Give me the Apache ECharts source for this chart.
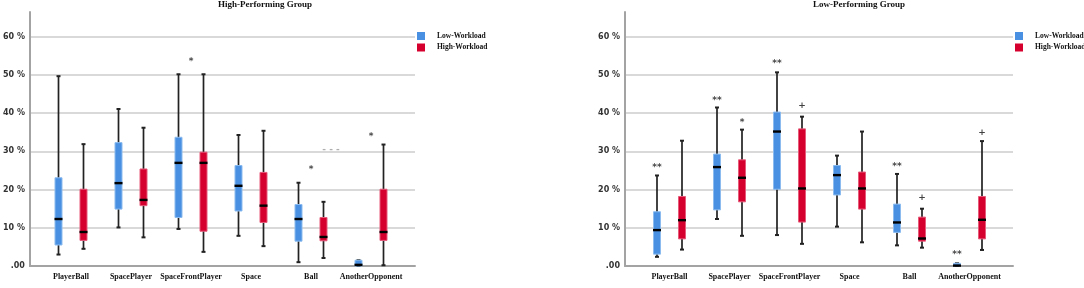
<!DOCTYPE html>
<html>
<head>
<meta charset="utf-8">
<script src="https://cdn.jsdelivr.net/npm/echarts@6/dist/echarts.min.js"></script>
<style>
  html, body { margin: 0; padding: 0; background: #fff; }
  #chart { width: 1084px; height: 288px; }
</style>
</head>
<body>
<div id="chart"></div>
<script>
// categories on the x axis
var categories = ['PlayerBall', 'SpacePlayer', 'SpaceFrontPlayer', 'Space', 'Ball', 'AnotherOpponent'];
var yTicks = [0, 10, 20, 30, 40, 50, 60];

// box values per category: [low whisker, Q1, median, Q3, high whisker] in %
var highPerfLowWl = [
  [3.0, 5.5, 12.3, 23.1, 49.7],
  [10.1, 14.9, 21.7, 32.3, 41.1],
  [9.7, 12.7, 27.0, 33.7, 50.2],
  [7.9, 14.4, 21.0, 26.3, 34.3],
  [1.0, 6.5, 12.3, 16.1, 21.8],
  [0.0, 0.0, 0.3, 1.5, 1.5]
];
var highPerfHighWl = [
  [4.5, 6.7, 8.9, 20.1, 31.9],
  [7.5, 15.8, 17.3, 25.4, 36.2],
  [3.7, 9.1, 27.0, 29.8, 50.2],
  [5.2, 11.4, 15.8, 24.5, 35.4],
  [2.1, 6.6, 7.6, 12.7, 16.8],
  [0.2, 6.7, 8.9, 20.1, 31.8]
];
var lowPerfLowWl = [
  [2.4, 3.1, 9.4, 14.2, 23.7],
  [12.3, 14.7, 25.9, 29.3, 41.5],
  [8.1, 20.1, 35.2, 40.3, 50.7],
  [10.3, 18.6, 23.8, 26.3, 28.9],
  [5.4, 8.8, 11.4, 16.2, 24.1],
  [0.0, 0.0, 0.1, 0.7, 0.7]
];
var lowPerfHighWl = [
  [4.3, 7.1, 12.0, 18.2, 32.8],
  [7.9, 16.8, 23.1, 27.8, 35.7],
  [5.8, 11.5, 20.3, 35.9, 39.1],
  [6.2, 14.9, 20.3, 24.6, 35.2],
  [4.8, 6.5, 7.2, 12.8, 15.0],
  [4.2, 7.1, 12.1, 18.2, 32.7]
];

// significance marks: [category, y position %, text]
var highPerfPairMarks = [
  ['SpaceFrontPlayer', 53.6, '*'],
  ['Ball', 25.1, '*'],
  ['AnotherOpponent', 33.9, '*']
];
var highPerfFaintMarks = [
  ['Ball', 30.4, '- - -']
];
var lowPerfLowWlMarks = [
  ['PlayerBall', 25.7, '**'],
  ['SpacePlayer', 43.4, '**'],
  ['SpaceFrontPlayer', 52.9, '**'],
  ['Ball', 26.0, '**'],
  ['AnotherOpponent', 3.0, '**']
];
var lowPerfHighWlMarks = [
  ['SpacePlayer', 37.6, '*'],
  ['SpaceFrontPlayer', 42.1, '+'],
  ['Ball', 17.8, '+'],
  ['AnotherOpponent', 34.8, '+']
];

var BLUE = '#4a90e2', BLUE_EDGE = '#8bbbef';
var RED = '#d6002f', RED_EDGE = '#e65a7a';
var Y_MAX = 66.5;

function boxData(rows) {
  return rows.map(function (r, i) { return [i].concat(r); });
}

function renderBox(dx, fill, edge) {
  return function (params, api) {
    var x = api.value(0);
    var lo = api.coord([x, api.value(1)]);
    var q1 = api.coord([x, api.value(2)]);
    var md = api.coord([x, api.value(3)]);
    var q3 = api.coord([x, api.value(4)]);
    var hi = api.coord([x, api.value(5)]);
    var cx = lo[0] + dx;
    var bw = 7;
    var ink = '#222';
    return {
      type: 'group',
      children: [
        { type: 'line', shape: { x1: cx, y1: hi[1], x2: cx, y2: lo[1] }, style: { stroke: ink, lineWidth: 1.7 } },
        { type: 'line', shape: { x1: cx - 2, y1: hi[1], x2: cx + 2, y2: hi[1] }, style: { stroke: ink, lineWidth: 2 } },
        { type: 'line', shape: { x1: cx - 2, y1: lo[1], x2: cx + 2, y2: lo[1] }, style: { stroke: ink, lineWidth: 2 } },
        { type: 'rect', shape: { x: cx - bw / 2, y: q3[1], width: bw, height: Math.max(q1[1] - q3[1], 1) },
          style: { fill: fill, stroke: edge, lineWidth: 1 } },
        { type: 'line', shape: { x1: cx - 4, y1: md[1], x2: cx + 4, y2: md[1] }, style: { stroke: '#000', lineWidth: 2.4 } }
      ]
    };
  };
}

function markSeries(list, xi, dx, color) {
  return {
    type: 'scatter', xAxisIndex: xi, yAxisIndex: xi, symbolSize: 1,
    itemStyle: { color: 'rgba(0,0,0,0)' }, silent: true,
    data: list.map(function (m) { return { name: m[2], value: [m[0], m[1]] }; }),
    label: { show: true, position: 'inside', offset: [dx, 0], formatter: '{b}',
      fontSize: 9, fontWeight: 'bold', color: color || '#111', fontFamily: 'DejaVu Sans' }
  };
}

var frameY = {
  type: 'value', min: 0, max: Y_MAX, interval: 10,
  axisLine: { show: true, lineStyle: { color: '#a3a3a3', width: 2 } },
  axisTick: { show: false },
  axisLabel: {
    margin: 5, fontSize: 8, fontWeight: 'bold', color: '#333', fontFamily: 'DejaVu Sans',
    showMaxLabel: false,
    formatter: function (v) { return yTicks.indexOf(v) < 0 ? '' : (v === 0 ? '.00' : v + ' %'); }
  },
  splitLine: { show: true, showMinLine: false, showMaxLine: false, lineStyle: { color: '#cdcdcd', width: 1.5 } }
};
var frameX = {
  type: 'category', data: categories,
  axisLine: { show: true, lineStyle: { color: '#a3a3a3', width: 2 } },
  axisTick: { show: false }, axisLabel: { show: false }
};
var catX = {
  type: 'category', data: categories,
  axisLine: { show: false }, axisTick: { show: false },
  axisLabel: { margin: 7, fontSize: 8, fontWeight: 'bold', color: '#111', fontFamily: 'Liberation Serif', interval: 0 }
};
var hiddenY = { type: 'value', min: 0, max: Y_MAX, show: false, splitLine: { show: false } };

function clone(o, extra) { return Object.assign({}, o, extra); }

var legendBase = {
  orient: 'vertical', top: 32, padding: 0, itemWidth: 8, itemHeight: 8, itemGap: 3.5,
  icon: 'rect', selectedMode: false, data: ['Low-Workload', 'High-Workload'],
  textStyle: { fontFamily: 'Liberation Serif', fontWeight: 'bold', fontSize: 7.5, color: '#111', padding: [0, 0, 0, 7] }
};

var chart = echarts.init(document.getElementById('chart'));
var option = {
  animation: false,
  title: [
    { text: 'High-Performing Group', left: 218, top: 0, padding: 0,
      textStyle: { fontFamily: 'Liberation Serif', fontWeight: 'bold', fontSize: 9, color: '#111' } },
    { text: 'Low-Performing Group', left: 813, top: 0, padding: 0,
      textStyle: { fontFamily: 'Liberation Serif', fontWeight: 'bold', fontSize: 9, color: '#111' } }
  ],
  legend: [clone(legendBase, { left: 417 }), clone(legendBase, { left: 1015 })],
  grid: [
    { left: 27, top: 12, width: 388, height: 254 },
    { left: 41, top: 12, width: 360, height: 254 },
    { left: 625, top: 12, width: 388, height: 254 },
    { left: 639.5, top: 12, width: 360, height: 254 }
  ],
  xAxis: [
    clone(frameX, { gridIndex: 0 }), clone(catX, { gridIndex: 1 }),
    clone(frameX, { gridIndex: 2 }), clone(catX, { gridIndex: 3 })
  ],
  yAxis: [
    clone(frameY, { gridIndex: 0 }), clone(hiddenY, { gridIndex: 1 }),
    clone(frameY, { gridIndex: 2 }), clone(hiddenY, { gridIndex: 3 })
  ],
  series: [
    { name: 'Low-Workload', type: 'custom', xAxisIndex: 1, yAxisIndex: 1, itemStyle: { color: BLUE },
      renderItem: renderBox(-12.5, BLUE, BLUE_EDGE), encode: { x: 0, y: [1, 2, 3, 4, 5] }, data: boxData(highPerfLowWl) },
    { name: 'High-Workload', type: 'custom', xAxisIndex: 1, yAxisIndex: 1, itemStyle: { color: RED },
      renderItem: renderBox(12.5, RED, RED_EDGE), encode: { x: 0, y: [1, 2, 3, 4, 5] }, data: boxData(highPerfHighWl) },
    markSeries(highPerfPairMarks, 1, 0),
    markSeries(highPerfFaintMarks, 1, 20, '#9a9a9a'),
    { name: 'Low-Workload', type: 'custom', xAxisIndex: 3, yAxisIndex: 3, itemStyle: { color: BLUE },
      renderItem: renderBox(-12.5, BLUE, BLUE_EDGE), encode: { x: 0, y: [1, 2, 3, 4, 5] }, data: boxData(lowPerfLowWl) },
    { name: 'High-Workload', type: 'custom', xAxisIndex: 3, yAxisIndex: 3, itemStyle: { color: RED },
      renderItem: renderBox(12.5, RED, RED_EDGE), encode: { x: 0, y: [1, 2, 3, 4, 5] }, data: boxData(lowPerfHighWl) },
    markSeries(lowPerfLowWlMarks, 3, -12.5),
    markSeries(lowPerfHighWlMarks, 3, 12.5)
  ]
};
chart.setOption(option);
</script>
</body>
</html>
